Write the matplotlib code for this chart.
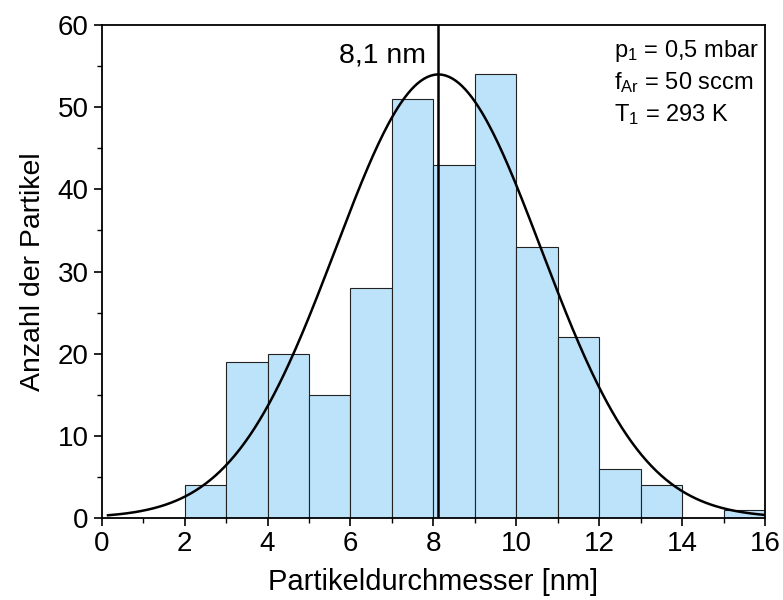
import numpy as np
import matplotlib
matplotlib.use("Agg")
import matplotlib.pyplot as plt
from matplotlib.ticker import MultipleLocator

plt.rcParams['font.family'] = ['Liberation Sans', 'DejaVu Sans']

bin_left = [2, 3, 4, 5, 6, 7, 8, 9, 10, 11, 12, 13, 14, 15]
counts = [4, 19, 20, 15, 28, 51, 43, 54, 33, 22, 6, 4, 0, 1]
fit_center = 8.12
fit_amp = 54.0
fit_sigma = 2.48

fig = plt.figure(figsize=(7.83, 6.00), dpi=100)
ax = fig.add_axes([0.130, 0.137, 0.847, 0.821])

ax.bar(bin_left, counts, width=1.0, align='edge', color='#BDE3FA',
       edgecolor='#222222', linewidth=0.8, zorder=2)

x = np.linspace(0.15, 16, 400)
y = fit_amp * np.exp(-(x - fit_center) ** 2 / (2 * fit_sigma ** 2))
ax.plot(x, y, color='black', linewidth=1.8, zorder=3)
ax.axvline(fit_center, color='black', linewidth=1.8, zorder=4)
ax.text(fit_center - 0.3, 55.4, '8,1 nm', ha='right', va='baseline', fontsize=20.5)

ax.text(0.772, 0.975, '$\\mathregular{p_1}$ = 0,5 mbar\n$\\mathregular{f_{Ar}}$ = 50 sccm\n$\\mathregular{T_1}$ = 293 K',
        transform=ax.transAxes, ha='left', va='top', fontsize=17, linespacing=1.35)

ax.set_xlim(0, 16)
ax.set_ylim(0, 60)
ax.xaxis.set_major_locator(MultipleLocator(2))
ax.xaxis.set_minor_locator(MultipleLocator(1))
ax.yaxis.set_major_locator(MultipleLocator(10))
ax.yaxis.set_minor_locator(MultipleLocator(5))
ax.tick_params(which='both', direction='out', top=False, right=False)
ax.tick_params(which='major', length=6, width=1.2, labelsize=20)
ax.tick_params(which='minor', length=3.5, width=1.0)
for s in ax.spines.values():
    s.set_linewidth(1.3)

ax.set_xlabel('Partikeldurchmesser [nm]', fontsize=21, labelpad=8)
ax.set_ylabel('Anzahl der Partikel', fontsize=20.5, labelpad=8)

fig.savefig('out.png', dpi=100)
